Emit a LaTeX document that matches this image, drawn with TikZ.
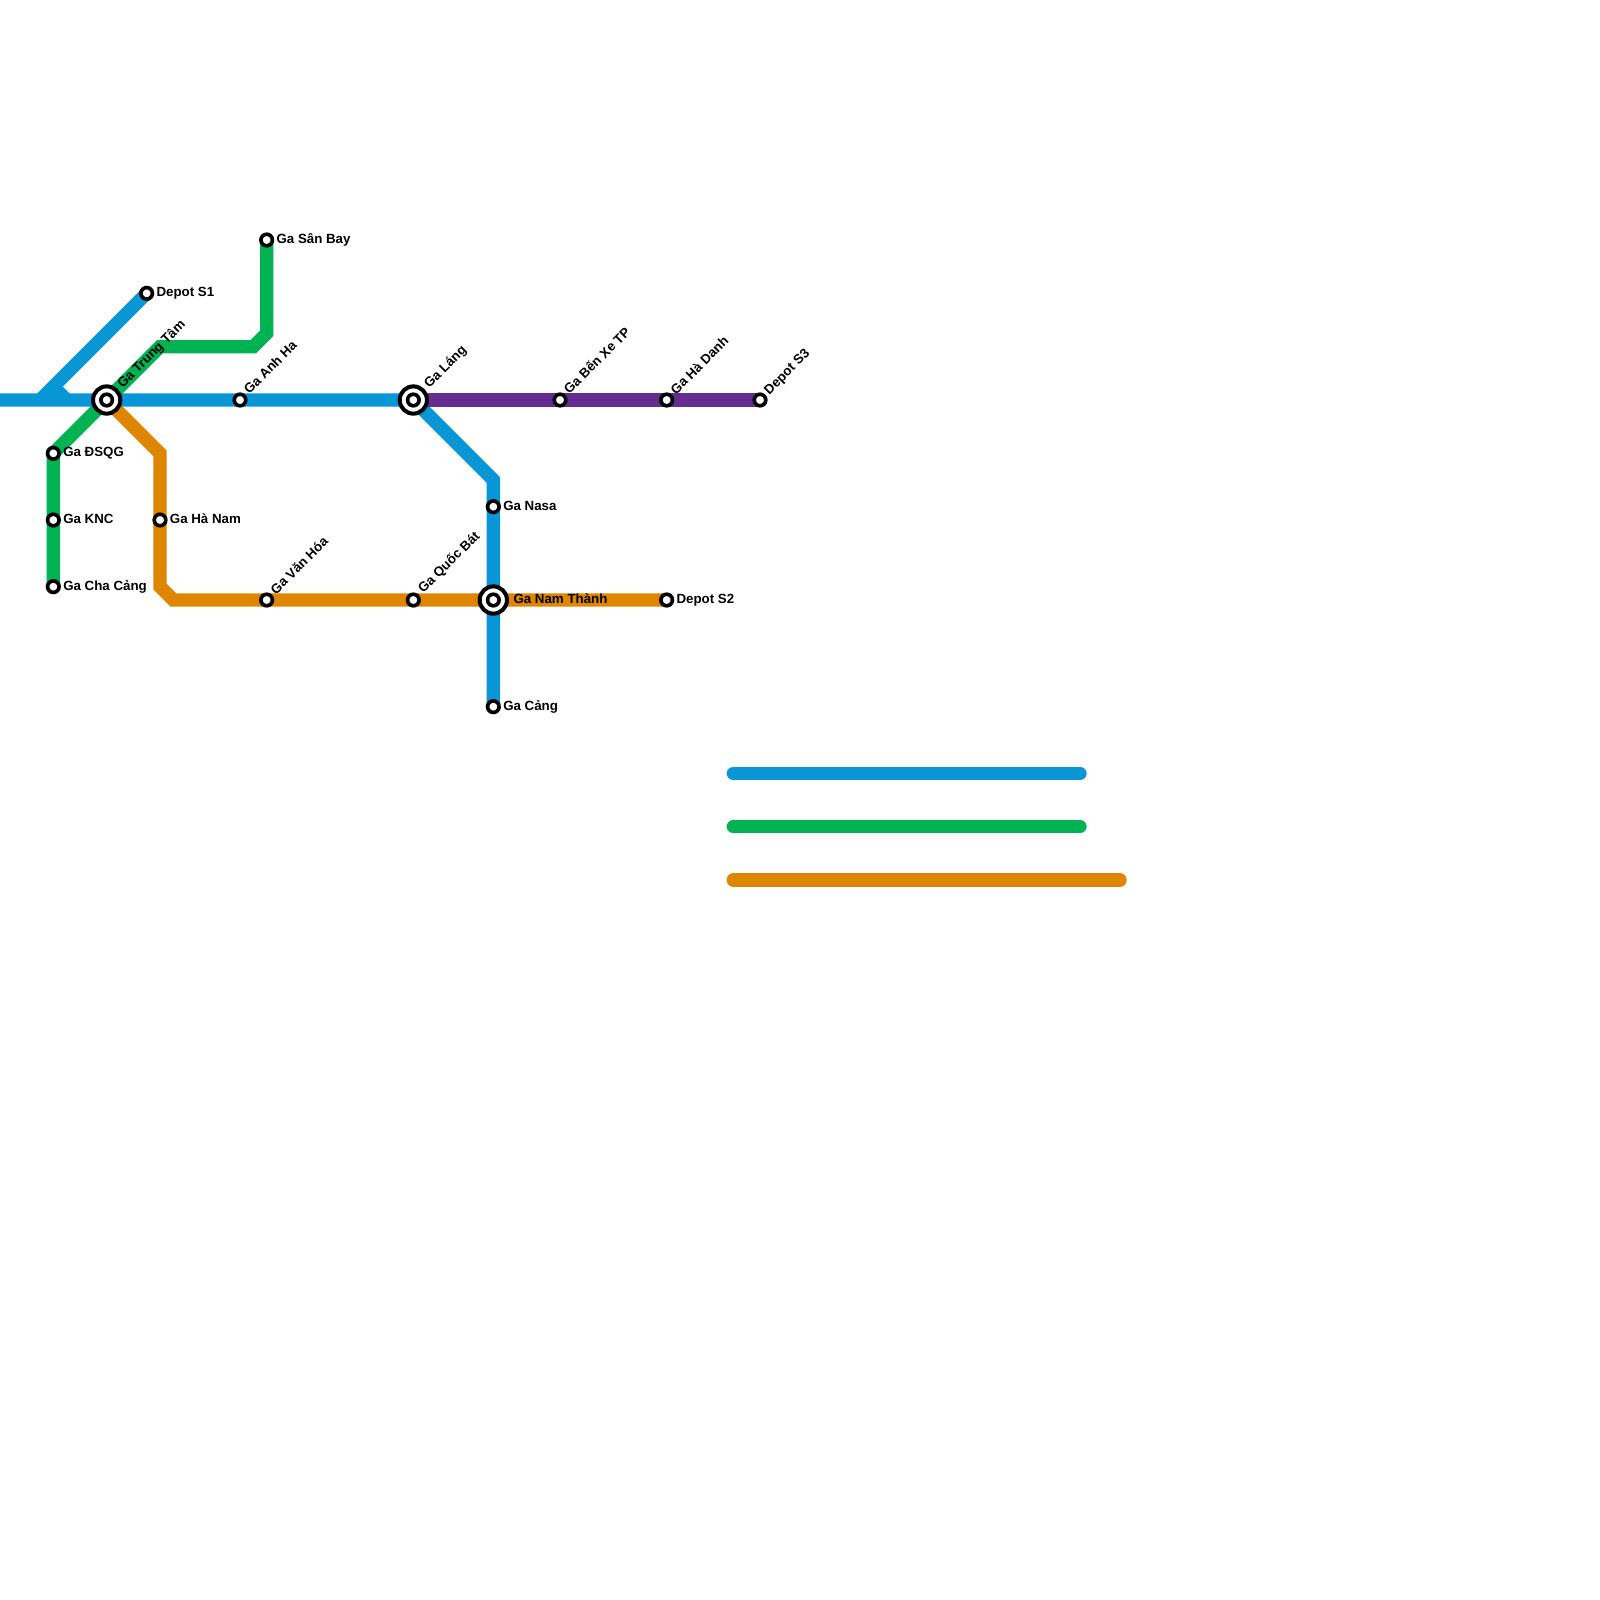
\documentclass[tikz,border=0pt]{standalone}
\usepackage{fontspec}
\usetikzlibrary{backgrounds}
\setmainfont{Liberation Sans}
\definecolor{lineblue}{HTML}{0896D7}
\definecolor{linegreen}{HTML}{00B251}
\definecolor{lineorange}{HTML}{DF8600}
\definecolor{linepurple}{HTML}{662C90}
\tikzset{
    metroline/.style={line width=5mm, line join=miter},
    legendline/.style={line width=5mm, line cap=round},
    station/.style={circle, draw=black, fill=white, line width=3.9pt, minimum size=12.3pt, inner sep=0pt},
    hubring/.style={station, line width=4.3pt, minimum size=29.1pt},
    sidelabel/.style={anchor=base west, inner sep=0pt, font=\bfseries\fontsize{14.2}{14.2}\selectfont},
    slantlabel/.style={sidelabel, rotate=45},
}
\begin{document}
\begin{tikzpicture}[x=5mm, y=-5mm]
    \useasboundingbox (0, 0) rectangle (120, 120);

    \coordinate (westEnd) at (0, 30);
    \coordinate (forkFoot) at (3, 30);
    \coordinate (forkJoin) at (4, 29);
    \coordinate (forkStub) at (5, 30);
    \coordinate (greenBendA) at (12, 26);
    \coordinate (greenBendB) at (19, 26);
    \coordinate (greenBendC) at (20, 25);
    \coordinate (orangeBendA) at (12, 34);
    \coordinate (orangeBendB) at (12, 44);
    \coordinate (orangeBendC) at (13, 45);
    \coordinate (blueBend) at (37, 36);

    \node[station] (depotSOne) at (11, 22) {};
    \node[station] (gaSanBay) at (20, 18) {};
    \node[station] (gaAnhHa) at (18, 30) {};
    \node[station] (gaDSQG) at (4, 34) {};
    \node[station] (gaKNC) at (4, 39) {};
    \node[station] (gaChaCang) at (4, 44) {};
    \node[station] (gaHaNam) at (12, 39) {};
    \node[station] (gaVanHoa) at (20, 45) {};
    \node[station] (gaQuocBat) at (31, 45) {};
    \node[station] (gaNasa) at (37, 38) {};
    \node[station] (gaCang) at (37, 53) {};
    \node[station] (depotSTwo) at (50, 45) {};
    \node[station] (gaBenXe) at (42, 30) {};
    \node[station] (gaHaDanh) at (50, 30) {};
    \node[station] (depotSThree) at (57, 30) {};
    \node[hubring] (gaTrungTam) at (8, 30) {};
    \node[station] (gaTrungTamCore) at (8, 30) {};
    \node[hubring] (gaLang) at (31, 30) {};
    \node[station] (gaLangCore) at (31, 30) {};
    \node[hubring] (gaNamThanh) at (37, 45) {};
    \node[station] (gaNamThanhCore) at (37, 45) {};

    \begin{scope}[on background layer]
        \draw[metroline, linegreen] (gaChaCang.center) -- (gaDSQG.center) -- (greenBendA) -- (greenBendB) -- (greenBendC) -- (gaSanBay.center);
        \draw[metroline, lineorange] (gaTrungTam.center) -- (orangeBendA) -- (orangeBendB) -- (orangeBendC) -- (depotSTwo.center);
        \draw[metroline, lineblue] (westEnd) -- (gaLang.center) -- (blueBend) -- (gaCang.center);
        \draw[metroline, lineblue] (forkFoot) -- (depotSOne.center);
        \draw[metroline, lineblue] (forkJoin) -- (forkStub);
        \draw[metroline, linepurple] (gaLang.center) -- (depotSThree.center);
    \end{scope}

    \coordinate (legendBlueA) at (55, 58);
    \coordinate (legendBlueB) at (81, 58);
    \coordinate (legendGreenA) at (55, 62);
    \coordinate (legendGreenB) at (81, 62);
    \coordinate (legendOrangeA) at (55, 66);
    \coordinate (legendOrangeB) at (84, 66);
    \draw[legendline, lineblue] (legendBlueA) -- (legendBlueB);
    \draw[legendline, linegreen] (legendGreenA) -- (legendGreenB);
    \draw[legendline, lineorange] (legendOrangeA) -- (legendOrangeB);

    \node[sidelabel] (labelSanBay) at (20.73, 18.25) {Ga Sân Bay};
    \node[sidelabel] (labelDepotSOne) at (11.73, 22.25) {Depot S1};
    \node[sidelabel] (labelDSQG) at (4.73, 34.25) {Ga ĐSQG};
    \node[sidelabel] (labelKNC) at (4.73, 39.25) {Ga KNC};
    \node[sidelabel] (labelChaCang) at (4.73, 44.25) {Ga Cha Cảng};
    \node[sidelabel] (labelHaNam) at (12.73, 39.25) {Ga Hà Nam};
    \node[sidelabel] (labelNasa) at (37.73, 38.25) {Ga Nasa};
    \node[sidelabel] (labelCang) at (37.73, 53.25) {Ga Cảng};
    \node[sidelabel] (labelNamThanh) at (38.5, 45.25) {Ga Nam Thành};
    \node[sidelabel] (labelDepotSTwo) at (50.73, 45.25) {Depot S2};

    \node[slantlabel] (labelTrungTam) at (9.2, 29.17) {Ga Trung Tâm};
    \node[slantlabel] (labelAnhHa) at (18.7, 29.62) {Ga Anh Ha};
    \node[slantlabel] (labelLang) at (32.2, 29.15) {Ga Láng};
    \node[slantlabel] (labelBenXe) at (42.7, 29.62) {Ga Bến Xe TP};
    \node[slantlabel] (labelHaDanh) at (50.7, 29.65) {Ga Hà Danh};
    \node[slantlabel] (labelDepotSThree) at (57.7, 29.65) {Depot S3};
    \node[slantlabel] (labelVanHoa) at (20.7, 44.65) {Ga Văn Hóa};
    \node[slantlabel] (labelQuocBat) at (31.75, 44.55) {Ga Quốc Bát};
\end{tikzpicture}
\end{document}
